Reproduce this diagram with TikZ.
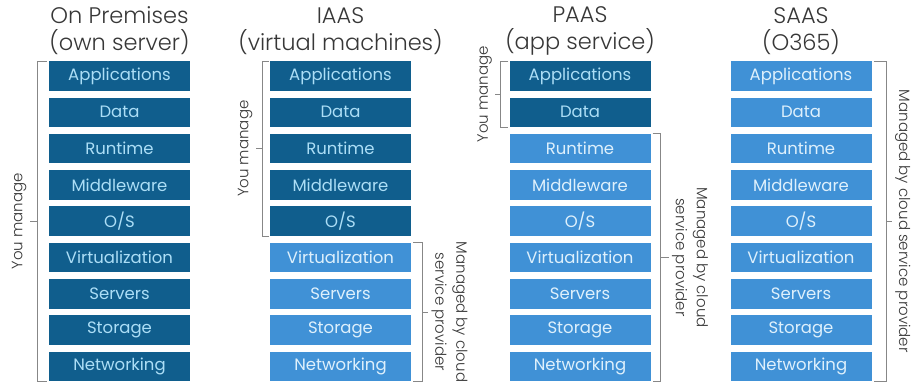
\documentclass[tikz,border=0pt]{standalone}
\usepackage{fontspec}
\setmainfont{Poppins}
\newfontfamily\thinfont{Poppins Light}
\usetikzlibrary{calc}
\definecolor{dkblue}{RGB}{16,94,141}
\definecolor{ltblue}{RGB}{64,145,214}
\definecolor{dktext}{RGB}{172,222,246}
\definecolor{lttext}{RGB}{222,240,252}
\definecolor{inkgray}{RGB}{55,55,55}
\definecolor{brkgray}{RGB}{135,135,135}
\tikzset{
  mine/.style={fill=dkblue, text=dktext, minimum width=141pt, minimum height=29.5pt,
    inner sep=0pt, font=\fontsize{16.5}{18}\selectfont},
  theirs/.style={mine, fill=ltblue, text=lttext},
  coltitle/.style={align=center, text=inkgray, font=\thinfont\fontsize{22.5}{27}\selectfont},
  brk/.style={draw=brkgray, line width=0.8pt},
  side/.style={align=center, text=inkgray, inner sep=3pt,
    font=\thinfont\fontsize{15}{21}\selectfont}
}

\begin{document}
\begin{tikzpicture}[x=1pt,y=-1pt]
      \useasboundingbox (0,0) rectangle (911,383);
      % column titles
      \node[coltitle] (tprem) at (119.5,31) {On Premises\\(own server)};
      \node[coltitle] (tiaas) at (340.5,31) {IAAS\\(virtual machines)};
      \node[coltitle] (tpaas) at (580,31) {PAAS\\(app service)};
      \node[coltitle] (tsaas) at (801,31) {SAAS\\(O365)};
      % on premises stack
      \node[mine] (op1) at (119.5,76) {Applications};
      \node[mine] (op2) at (119.5,112.3) {Data};
      \node[mine] (op3) at (119.5,148.6) {Runtime};
      \node[mine] (op4) at (119.5,184.9) {Middleware};
      \node[mine] (op5) at (119.5,221.2) {O/S};
      \node[mine] (op6) at (119.5,257.5) {Virtualization};
      \node[mine] (op7) at (119.5,293.8) {Servers};
      \node[mine] (op8) at (119.5,330.1) {Storage};
      \node[mine] (op9) at (119.5,366.4) {Networking};
      % iaas stack
      \node[mine] (ia1) at (340.5,76) {Applications};
      \node[mine] (ia2) at (340.5,112.3) {Data};
      \node[mine] (ia3) at (340.5,148.6) {Runtime};
      \node[mine] (ia4) at (340.5,184.9) {Middleware};
      \node[mine] (ia5) at (340.5,221.2) {O/S};
      \node[theirs] (ia6) at (340.5,257.5) {Virtualization};
      \node[theirs] (ia7) at (340.5,293.8) {Servers};
      \node[theirs] (ia8) at (340.5,330.1) {Storage};
      \node[theirs] (ia9) at (340.5,366.4) {Networking};
      % paas stack
      \node[mine] (pa1) at (580,76) {Applications};
      \node[mine] (pa2) at (580,112.3) {Data};
      \node[theirs] (pa3) at (580,148.6) {Runtime};
      \node[theirs] (pa4) at (580,184.9) {Middleware};
      \node[theirs] (pa5) at (580,221.2) {O/S};
      \node[theirs] (pa6) at (580,257.5) {Virtualization};
      \node[theirs] (pa7) at (580,293.8) {Servers};
      \node[theirs] (pa8) at (580,330.1) {Storage};
      \node[theirs] (pa9) at (580,366.4) {Networking};
      % saas stack
      \node[theirs] (sa1) at (801,76) {Applications};
      \node[theirs] (sa2) at (801,112.3) {Data};
      \node[theirs] (sa3) at (801,148.6) {Runtime};
      \node[theirs] (sa4) at (801,184.9) {Middleware};
      \node[theirs] (sa5) at (801,221.2) {O/S};
      \node[theirs] (sa6) at (801,257.5) {Virtualization};
      \node[theirs] (sa7) at (801,293.8) {Servers};
      \node[theirs] (sa8) at (801,330.1) {Storage};
      \node[theirs] (sa9) at (801,366.4) {Networking};
      % brackets
      \draw[brk] ([xshift=-2pt]op1.north west) -- ++(-9,0) coordinate (opt)
        -- (opt |- op9.south) coordinate (opb) -- ([xshift=-2pt]op9.south west);
      \draw[brk] ($(opt)!0.5!(opb)$) -- ++(-8,0) node[side, rotate=90, anchor=south] {You manage};
      \draw[brk] ([xshift=-1pt]ia1.north west) -- ++(-6,0) coordinate (iat)
        -- (iat |- ia5.south) coordinate (iab) -- ([xshift=-1pt]ia5.south west);
      \draw[brk] ($(iat)!0.5!(iab)$) -- ++(-7,0) node[side, rotate=90, anchor=south] {You manage};
      \draw[brk] ([xshift=2pt]ia6.north east) -- ++(9,0) coordinate (irt)
        -- (irt |- ia9.south) coordinate (irb) -- ([xshift=2pt]ia9.south east);
      \draw[brk] ($(irt)!0.5!(irb)$) -- ++(6,0) node[side, rotate=-90, anchor=south] {Managed by cloud\\service provider};
      \draw[brk] ([xshift=-1pt]pa1.north west) -- ++(-8,0) coordinate (pat)
        -- (pat |- pa2.south) coordinate (pab) -- ([xshift=-1pt]pa2.south west);
      \draw[brk] ($(pat)!0.5!(pab)$) -- ++(-5,0) node[side, rotate=90, anchor=south] {You manage};
      \draw[brk] ([xshift=2pt]pa3.north east) -- ++(8,0) coordinate (prt)
        -- (prt |- pa9.south) coordinate (prb) -- ([xshift=2pt]pa9.south east);
      \draw[brk] ($(prt)!0.5!(prb)$) -- ++(8,0) node[side, rotate=-90, anchor=south] {Managed by cloud\\service provider};
      \draw[brk] ([xshift=2pt]sa1.north east) -- ++(13,0) coordinate (srt)
        -- (srt |- sa9.south) coordinate (srb) -- ([xshift=2pt]sa9.south east);
      \draw[brk] ($(srt)!0.5!(srb)$) -- ++(5,0) node[side, rotate=-90, anchor=south] {Managed by cloud service provider};
    \end{tikzpicture}
\end{document}
